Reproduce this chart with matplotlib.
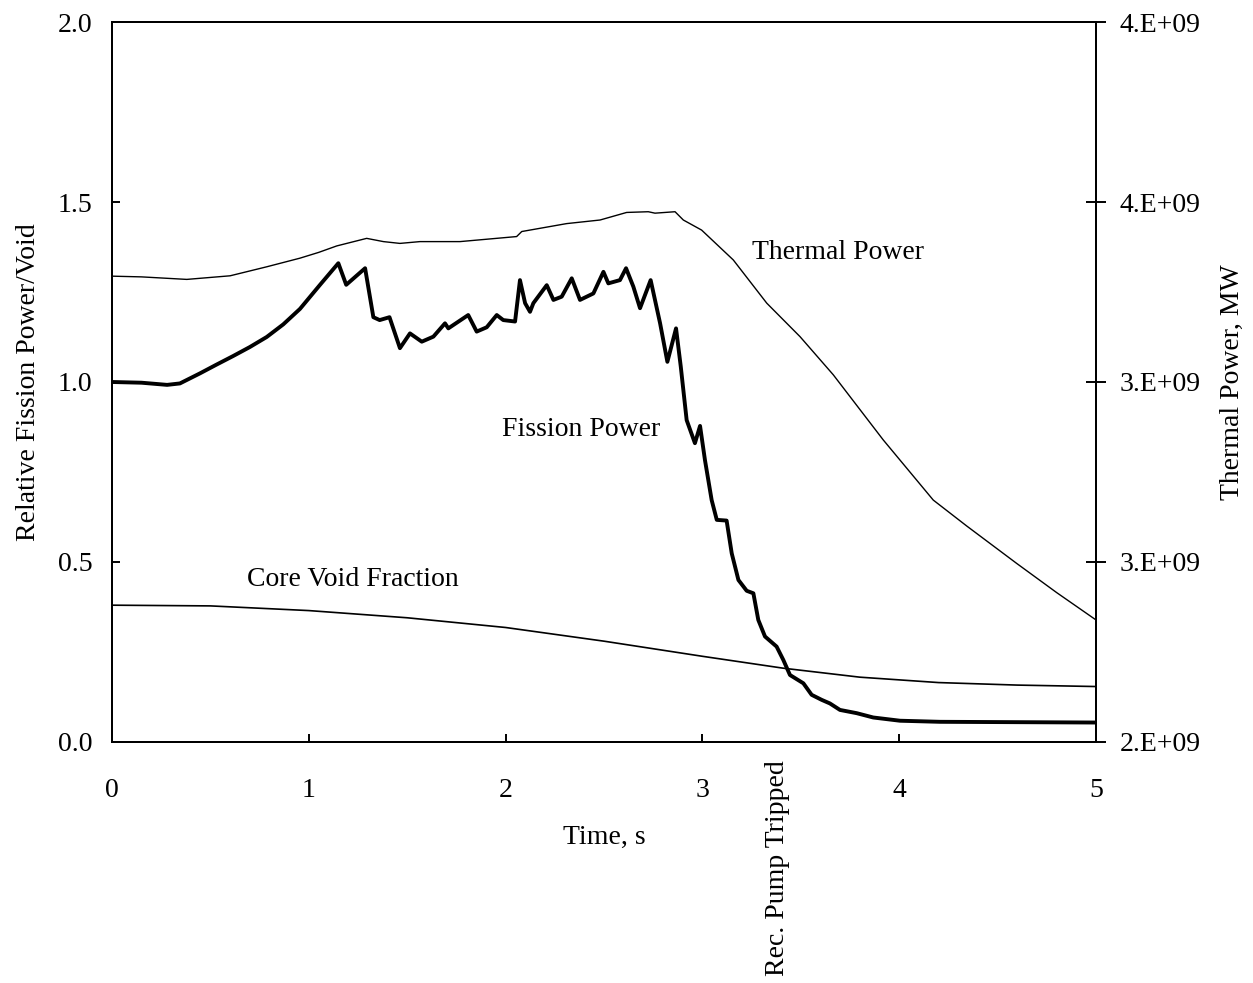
import matplotlib
matplotlib.use("Agg")
import matplotlib.pyplot as plt
from matplotlib.ticker import FuncFormatter

plt.rcParams['font.family'] = ['Liberation Serif', 'DejaVu Serif']
plt.rcParams['font.size'] = 20

# fission power (relative)
fis_t = [0.0, 0.15, 0.28, 0.345, 0.447, 0.53, 0.615, 0.7, 0.786, 0.87, 0.955, 1.057, 1.15,
         1.19, 1.286, 1.328,
         1.36, 1.41, 1.463, 1.514, 1.574, 1.633, 1.692, 1.709, 1.81, 1.853, 1.904, 1.955,
         1.988, 2.048, 2.073, 2.099, 2.124, 2.141, 2.209, 2.243, 2.285, 2.336, 2.378, 2.446,
         2.497, 2.522, 2.581, 2.612, 2.649, 2.683, 2.737, 2.785, 2.822, 2.866, 2.89, 2.92,
         2.962, 2.988, 3.013, 3.047, 3.073, 3.123, 3.149, 3.183, 3.225, 3.259, 3.284, 3.318,
         3.377, 3.411, 3.445, 3.513, 3.555, 3.606, 3.648, 3.699, 3.784, 3.868, 4.004, 4.207,
         4.6, 5.0]
fis_v = [1.0, 0.998, 0.992, 0.996, 1.024, 1.048, 1.072, 1.097, 1.125, 1.16, 1.203, 1.27, 1.33,
         1.27, 1.316, 1.18,
         1.172, 1.18, 1.094, 1.135, 1.112, 1.126, 1.163, 1.149, 1.186, 1.140, 1.152, 1.186,
         1.172, 1.168, 1.283, 1.219, 1.195, 1.219, 1.269, 1.228, 1.237, 1.288, 1.228, 1.246,
         1.306, 1.274, 1.283, 1.316, 1.265, 1.205, 1.283, 1.163, 1.056, 1.149, 1.043, 0.894,
         0.83, 0.878, 0.783, 0.672, 0.617, 0.615, 0.524, 0.45, 0.42, 0.413, 0.339, 0.293,
         0.265, 0.228, 0.186, 0.163, 0.131, 0.117, 0.107, 0.089, 0.08, 0.068, 0.059, 0.056,
         0.055, 0.054]

# core void fraction
void_t = [0.0, 0.5, 1.0, 1.5, 2.0, 2.5, 3.0, 3.41, 3.8, 4.2, 4.6, 5.0]
void_v = [0.38, 0.378, 0.365, 0.345, 0.318, 0.28, 0.238, 0.205, 0.18, 0.165, 0.158, 0.154]

# thermal power (right axis)
th_t = [0.0, 0.15, 0.38, 0.6, 0.786, 0.955, 1.05, 1.142, 1.294, 1.379, 1.463, 1.565, 1.768,
        2.056, 2.082, 2.31, 2.48, 2.615, 2.725, 2.759, 2.861, 2.903, 2.996, 3.157, 3.327,
        3.496, 3.665, 3.919, 4.173, 4.343, 4.597, 4.8, 5.0]
th_p = [3.294e9, 3.292e9, 3.285e9, 3.295e9, 3.32e9, 3.344e9, 3.36e9, 3.378e9, 3.399e9,
        3.39e9, 3.385e9, 3.39e9, 3.39e9, 3.404e9, 3.418e9, 3.44e9, 3.45e9, 3.471e9,
        3.473e9, 3.469e9, 3.473e9, 3.45e9, 3.422e9, 3.339e9, 3.219e9, 3.126e9, 3.02e9,
        2.839e9, 2.672e9, 2.6e9, 2.496e9, 2.415e9, 2.339e9]

fig = plt.figure(figsize=(12.53, 9.83), dpi=100)
ax = fig.add_axes([0.0894, 0.2452, 0.7853, 0.7324])
ax2 = ax.twinx()

ax.plot(fis_t, fis_v, color='black', lw=2.8)
ax.plot(void_t, void_v, color='black', lw=1.2)
ax2.plot(th_t, th_p, color='black', lw=1.0)

ax.set_xlim(0, 5)
ax.set_ylim(0, 2)
ax2.set_ylim(2e9, 4e9)
ax.set_xticks([0, 1, 2, 3, 4, 5])
ax.set_yticks([0, 0.5, 1.0, 1.5, 2.0])
ax.yaxis.set_major_formatter(FuncFormatter(lambda v, p: '%.1f' % v))
ax2.set_yticks([2e9, 2.5e9, 3e9, 3.5e9, 4e9])
ax2.yaxis.set_major_formatter(FuncFormatter(lambda v, p: '%d.E+09' % int(v / 1e9 + 0.5)))

for a in (ax, ax2):
    for s in a.spines.values():
        s.set_linewidth(1.4)
ax.tick_params(axis='x', direction='in', length=6, width=1.4, pad=26)
ax.tick_params(axis='y', direction='in', length=6, width=1.4, pad=14)
ax2.tick_params(axis='y', direction='inout', length=14, width=1.4, pad=10)

ax.set_xlabel('Time, s', labelpad=16)
ax.set_ylabel('Relative Fission Power/Void')
ax.yaxis.set_label_coords(-0.072, 0.5)
ax2.set_ylabel('Thermal Power, MW')
ax2.yaxis.set_label_coords(1.126, 0.5)

ax.text(3.25, 1.361, 'Thermal Power', ha='left', va='center')
ax.text(1.98, 0.867, 'Fission Power', ha='left', va='center')
ax.text(0.686, 0.45, 'Core Void Fraction', ha='left', va='center')
ax.text(3.38, -0.35, 'Rec. Pump Tripped', rotation=90, ha='center', va='center', clip_on=False)

fig.savefig('out.png', dpi=100)
